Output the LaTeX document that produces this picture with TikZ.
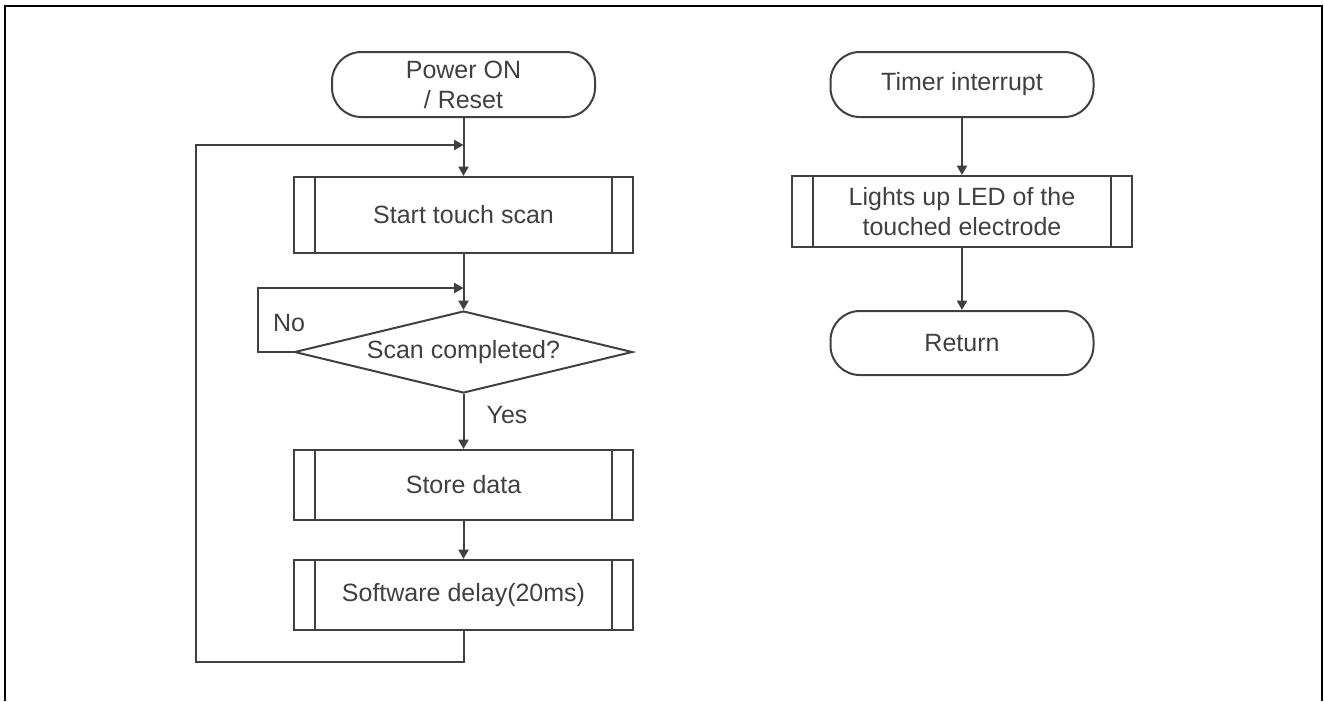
\documentclass[tikz,border=0pt]{standalone}
\usepackage{fontspec}
\setmainfont{Liberation Sans}
\usepackage{xcolor}
\usepackage{tikz}
\usetikzlibrary{arrows.meta, shapes.geometric}
\definecolor{linegray}{HTML}{404040}

\begin{document}
\begin{tikzpicture}[
            x=0.75pt, y=-0.75pt,
            font=\fontsize{18.75pt}{22.5pt}\selectfont,
            every node/.style={text=linegray},
            term/.style={draw=linegray, line width=1.5pt, rounded corners=22pt,
                minimum width=197.25pt, minimum height=48.75pt, align=center, inner sep=0pt},
            proc/.style={draw=linegray, line width=1.5pt, minimum width=254.25pt,
                minimum height=52.5pt, align=center, inner sep=0pt,
                path picture={\draw[linegray, line width=1.5pt]
                    ([xshift=15.75pt]path picture bounding box.north west) -- ([xshift=15.75pt]path picture bounding box.south west)
                    ([xshift=-15.75pt]path picture bounding box.north east) -- ([xshift=-15.75pt]path picture bounding box.south east);}},
            decide/.style={diamond, draw=linegray, line width=1.5pt, aspect=4.12,
                minimum width=253.5pt, minimum height=61.5pt, inner sep=0pt},
            wire/.style={draw=linegray, line width=1.5pt},
            flow/.style={wire, -{Triangle[length=7pt, width=7.5pt]}},
            tag/.style={inner sep=0pt}
        ]

        \useasboundingbox (0,0) rectangle (1324,701);

        % Frame
        \draw[black, line width=2pt] (5,701) -- (5,6) -- (1322,6) -- (1322,701);

        % Main loop (manual layout to match figure)
        \node[term] (power) at (463.5,84.5) {Power ON\\/ Reset};
        \node[proc, minimum height=57pt] (scan) at (463.5,215) {Start touch scan};
        \node[decide] (check) at (463.5,352) {Scan completed?};
        \node[proc] (store) at (463.5,485) {Store data};
        \node[proc] (delay) at (463.5,595) {Software delay(20ms)};

        \node[tag] (no) at (289,323) {No};
        \node[tag] (yes) at (507,415) {Yes};

        \coordinate (join1) at (463.5,145);
        \coordinate (join2) at (463.5,288);
        \coordinate (noL) at (258,288);
        \coordinate (backL) at (196,662);

        % Timer interrupt
        \node[term] (timer) at (962,84.5) {Timer interrupt};
        \node[proc, minimum width=255pt, minimum height=53.25pt] (led) at (962,211.5) {Lights up LED of the\\touched electrode};
        \node[term, minimum height=48pt] (ret) at (962,343) {Return};

        % Edges
        \draw[flow] (power) -- (scan);
        \draw[flow] (scan) -- (check);
        \draw[flow] (check.west) -| (noL) -- (join2);
        \draw[flow] (check) -- (store);
        \draw[flow] (store) -- (delay);
        \draw[flow] (delay.south) |- (backL) |- (join1);

        \draw[flow] (timer) -- (led);
        \draw[flow] (led) -- (ret);

        \end{tikzpicture}
\end{document}
